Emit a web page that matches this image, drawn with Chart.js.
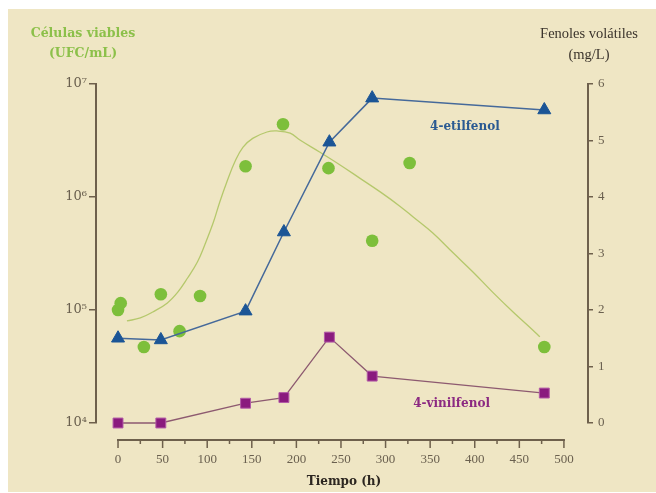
<!DOCTYPE html>
<html>
<head>
<meta charset="utf-8">
<script src="https://cdn.jsdelivr.net/npm/chart.js@4.4.1/dist/chart.umd.min.js"></script>
<style>
html,body{margin:0;padding:0;background:#fff;}
#wrap{width:656px;height:493px;}
</style>
</head>
<body>
<div id="wrap"><canvas id="c" width="656" height="493"></canvas></div>
<script>
// ---- data ----
const cellTime = [0, 3, 29, 48, 69, 92, 143, 185, 236, 285, 327, 478];
const cellCounts = [1.0e5, 1.15e5, 4.7e4, 1.38e5, 6.5e4, 1.33e5, 1.87e6, 4.4e6, 1.8e6, 4.1e5, 2.0e6, 4.7e4];

const curveTime = [10, 25, 39, 55, 67, 78, 89, 98, 107, 114, 122, 131, 140, 151, 167, 178, 193, 204, 226, 249, 271, 294, 316, 331, 353, 376, 398, 420, 443, 465, 473];
const curveCells = [8.0e4, 8.5e4, 9.6e4, 1.15e5, 1.44e5, 1.92e5, 2.66e5, 3.9e5, 6.0e5, 9.0e5, 1.36e6, 2.05e6, 2.75e6, 3.3e6, 3.76e6, 3.84e6, 3.68e6, 3.19e6, 2.5e6, 1.92e6, 1.47e6, 1.11e6, 8.3e5, 6.65e5, 4.8e5, 3.19e5, 2.17e5, 1.44e5, 9.6e4, 6.65e4, 5.8e4];

const phenolTime = [0, 48, 143, 186, 237, 285, 478];
const etilfenol = [1.50, 1.47, 1.98, 3.38, 4.97, 5.75, 5.54];
const vinilfenol = [0, 0, 0.35, 0.45, 1.52, 0.83, 0.53];

const xTicks = [0, 50, 100, 150, 200, 250, 300, 350, 400, 450, 500];
const xTickLabels = ['0','50','100','150','200','250','300','350','400','450','500'];
const leftTicks = [1e4, 1e5, 1e6, 1e7];
const leftTickLabels = ['10\u2074','10\u2075','10\u2076','10\u2077'];
const rightTickLabels = ['0','1','2','3','4','5','6'];

const leftTitle = ['Células viables', '(UFC/mL)'];
const rightTitle = ['Fenoles volátiles', '(mg/L)'];
const xTitle = 'Tiempo (h)';
const etilLabel = '4-etilfenol';
const vinilLabel = '4-vinilfenol';

// ---- styles ----
const AXIS = '#6e604c';
const TICKTXT = '#6a604f';
const BG = '#efe6c4';

const zip = (xs, ys) => xs.map((x, i) => ({x: x, y: ys[i]}));

const bgPlugin = {
  id: 'bg',
  beforeDraw(chart) {
    const ctx = chart.ctx;
    ctx.save();
    ctx.fillStyle = '#ffffff';
    ctx.fillRect(0, 0, chart.width, chart.height);
    ctx.fillStyle = BG;
    ctx.fillRect(8, 9, chart.width - 8, chart.height - 10);
    ctx.restore();
  }
};

const decorPlugin = {
  id: 'decor',
  afterDraw(chart) {
    const ctx = chart.ctx;
    const xs = chart.scales.x;
    const yr = chart.scales.yR;
    const ca = chart.chartArea;
    ctx.save();
    // x axis line offset below plot
    const yAx = ca.bottom + 17;
    ctx.strokeStyle = AXIS;
    ctx.lineWidth = 2;
    ctx.beginPath();
    ctx.moveTo(xs.getPixelForValue(xTicks[0]) - 1, yAx);
    ctx.lineTo(xs.getPixelForValue(xTicks[xTicks.length - 1]) + 1, yAx);
    ctx.stroke();
    ctx.lineWidth = 1.5;
    for (let i = 0; i < xTicks.length; i++) {
      const px = xs.getPixelForValue(xTicks[i]);
      ctx.beginPath();
      ctx.moveTo(px, yAx);
      ctx.lineTo(px, yAx + 8);
      ctx.stroke();
      if (i < xTicks.length - 1) {
        const mx = xs.getPixelForValue((xTicks[i] + xTicks[i + 1]) / 2);
        ctx.beginPath();
        ctx.moveTo(mx, yAx);
        ctx.lineTo(mx, yAx + 4);
        ctx.stroke();
      }
    }
    // titles
    ctx.textAlign = 'center';
    ctx.textBaseline = 'middle';
    ctx.fillStyle = '#8cc04a';
    ctx.font = 'bold 12.5px "DejaVu Serif"';
    ctx.fillText(leftTitle[0], 83, 34);
    ctx.fillText(leftTitle[1], 83, 54);
    ctx.fillStyle = '#3b342c';
    ctx.font = '14.5px "Liberation Serif"';
    ctx.fillText(rightTitle[0], 589, 34);
    ctx.fillText(rightTitle[1], 589, 55);
    ctx.fillStyle = '#2c2620';
    ctx.font = 'bold 12px "DejaVu Serif"';
    ctx.fillText(xTitle, 344, 482);
    // series labels
    ctx.fillStyle = '#2a5a92';
    ctx.fillText(etilLabel, xs.getPixelForValue(389), yr.getPixelForValue(5.24));
    ctx.fillStyle = '#8c2a82';
    ctx.fillText(vinilLabel, xs.getPixelForValue(374), yr.getPixelForValue(0.34));
    ctx.restore();
  }
};

new Chart(document.getElementById('c'), {
  data: {
    datasets: [
      {
        type: 'line',
        data: zip(curveTime, curveCells),
        yAxisID: 'yL',
        borderColor: '#b5c86c',
        borderWidth: 1.3,
        pointRadius: 0,
        tension: 0.4,
        fill: false,
        order: 5
      },
      {
        type: 'line',
        data: zip(phenolTime, etilfenol),
        yAxisID: 'yR',
        borderColor: '#45699a',
        borderWidth: 1.5,
        pointStyle: 'triangle',
        pointRadius: 7.5,
        pointBackgroundColor: '#1b5596',
        pointBorderColor: '#1b5596',
        pointBorderWidth: 1,
        tension: 0,
        clip: false,
        order: 2
      },
      {
        type: 'line',
        data: zip(phenolTime, vinilfenol),
        yAxisID: 'yR',
        borderColor: '#8d5a70',
        borderWidth: 1.3,
        pointStyle: 'rect',
        pointRadius: 7,
        pointBackgroundColor: '#8a1b7e',
        pointBorderColor: '#b25aa6',
        pointBorderWidth: 1,
        tension: 0,
        clip: false,
        order: 3
      },
      {
        type: 'scatter',
        data: zip(cellTime, cellCounts),
        yAxisID: 'yL',
        pointRadius: 6.3,
        pointBackgroundColor: '#7dbf3b',
        pointBorderColor: '#7dbf3b',
        pointBorderWidth: 0,
        clip: false,
        order: 4
      }
    ]
  },
  options: {
    responsive: false,
    animation: false,
    events: [],
    layout: {padding: {top: 84, left: 0, right: 0, bottom: 0}},
    plugins: {legend: {display: false}, tooltip: {enabled: false}, title: {display: false}},
    scales: {
      x: {
        type: 'linear',
        position: 'bottom',
        min: -24.7,
        max: 527,
        afterBuildTicks(s) { s.ticks = xTicks.map(v => ({value: v})); },
        afterFit(s) { s.height = 70; },
        grid: {display: false, drawTicks: false},
        border: {display: false},
        ticks: {
          padding: 29,
          color: TICKTXT,
          font: {family: '"Liberation Serif"', size: 13},
          maxRotation: 0,
          autoSkip: false,
          callback: (v, i) => xTickLabels[i]
        }
      },
      yL: {
        type: 'logarithmic',
        position: 'left',
        min: 1e4,
        max: 1e7,
        afterBuildTicks(s) { s.ticks = leftTicks.map(v => ({value: v, major: true})); },
        afterFit(s) { s.width = 96; },
        grid: {drawOnChartArea: false, drawTicks: true, tickLength: 7, color: AXIS, lineWidth: 1.5},
        border: {display: true, color: AXIS, width: 2},
        ticks: {
          padding: 2,
          color: TICKTXT,
          font: {family: '"DejaVu Serif"', size: 13},
          autoSkip: false,
          callback: (v, i) => leftTickLabels[i]
        }
      },
      yR: {
        type: 'linear',
        position: 'right',
        min: 0,
        max: 6,
        afterBuildTicks(s) { s.ticks = rightTickLabels.map((t, i) => ({value: i})); },
        afterFit(s) { s.width = 68; },
        grid: {drawOnChartArea: false, drawTicks: true, tickLength: 5, color: AXIS, lineWidth: 1.5},
        border: {display: true, color: AXIS, width: 2},
        ticks: {
          padding: 5,
          color: TICKTXT,
          font: {family: '"Liberation Serif"', size: 13},
          autoSkip: false,
          callback: (v, i) => rightTickLabels[i]
        }
      }
    }
  },
  plugins: [bgPlugin, decorPlugin]
});
</script>
</body>
</html>
